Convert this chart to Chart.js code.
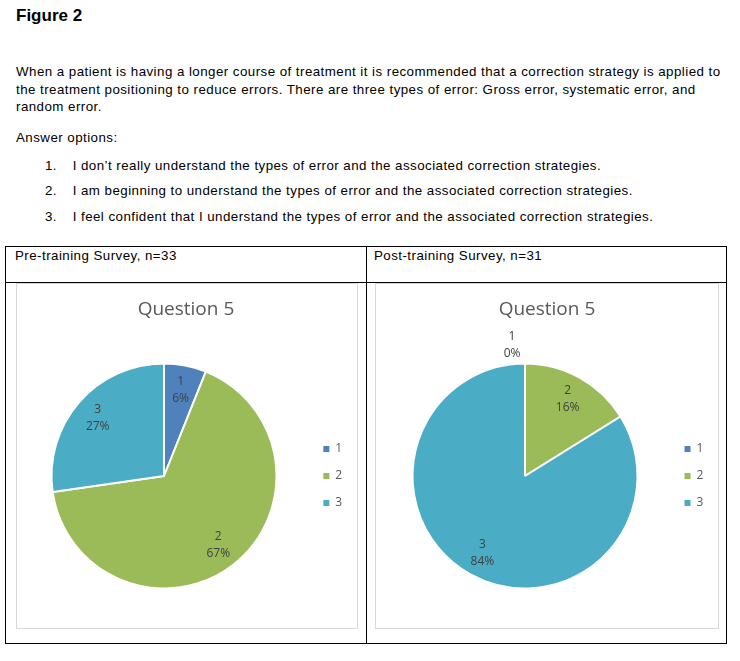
<!DOCTYPE html>
<html>
<head>
<meta charset="utf-8">
<title>Figure 2</title>
<script src="https://cdn.jsdelivr.net/npm/chart.js@4.4.1/dist/chart.umd.min.js"></script>
<style>
    body { margin: 0; background: #fff; width: 740px; height: 661px; position: relative; overflow: hidden;
           font-family: "Liberation Sans", Arial, sans-serif; color: #000; }
    .t { position: absolute; white-space: nowrap; font-size: 13.33px; letter-spacing: 0.45px; line-height: 17.5px; }
    .fig { position: absolute; left: 16px; top: 6px; font-size: 17px; line-height: 20px; font-weight: bold; }
    .line { position: absolute; background: #000; }
    .box { position: absolute; box-sizing: border-box; border: 1px solid #d9d9d9; }
    canvas { position: absolute; }
</style>
</head>
<body>

<div class="fig">Figure 2</div>

<div class="t" style="left:16px; top:63.3px;">When a patient is having a longer course of treatment it is recommended that a correction strategy is applied to<br>the treatment positioning to reduce errors. There are three types of error: Gross error, systematic error, and<br>random error.</div>

<div class="t" style="left:16px; top:129.3px;">Answer options:</div>

<div class="t" style="left:45px; top:157.3px;">1.</div>
<div class="t" style="left:72.7px; top:157.3px;">I don’t really understand the types of error and the associated correction strategies.</div>
<div class="t" style="left:45px; top:182.3px;">2.</div>
<div class="t" style="left:72.7px; top:182.3px;">I am beginning to understand the types of error and the associated correction strategies.</div>
<div class="t" style="left:45px; top:207.6px;">3.</div>
<div class="t" style="left:72.7px; top:207.6px;">I feel confident that I understand the types of error and the associated correction strategies.</div>

<!-- table frame -->
<div style="position:absolute; left:5px; top:246px; width:722px; height:398px; box-sizing:border-box; border:1px solid #000;"></div>
<div class="line" style="left:5px; top:282px; width:722px; height:1px;"></div>
<div class="line" style="left:366px; top:246px; width:1px; height:398px;"></div>

<div class="t" style="left:15px; top:246.6px;">Pre-training Survey, n=33</div>
<div class="t" style="left:374px; top:246.6px;">Post-training Survey, n=31</div>

<div class="box" style="left:16px; top:283px; width:342px; height:346px;"></div>
<div class="box" style="left:375px; top:283px; width:344px; height:346px;"></div>

<canvas id="preChart" style="left:16px; top:283px;" width="342" height="346"></canvas>
<canvas id="postChart" style="left:375px; top:283px;" width="344" height="346"></canvas>

<script>
// answer options and number of respondents picking each one
const answerLabels = ['1', '2', '3'];
const preCounts = [2, 22, 9];    // n = 33
const postCounts = [0, 5, 26];   // n = 31
const chartTitle = 'Question 5';

const sliceColours = ['#4F81BD', '#9BBB59', '#4BACC6'];

// Excel style data labels: category on one line, percentage under it
const sliceLabels = {
    id: 'sliceLabels',
    afterDatasetsDraw(chart) {
        const ctx = chart.ctx;
        const meta = chart.getDatasetMeta(0);
        const values = chart.data.datasets[0].data;
        const total = values.reduce((a, b) => a + b, 0);
        ctx.save();
        ctx.font = '12px "Open Sans"';
        ctx.fillStyle = '#404040';
        ctx.textAlign = 'center';
        ctx.textBaseline = 'middle';
        meta.data.forEach((arc, i) => {
            const p = arc.getProps(['x', 'y', 'startAngle', 'endAngle', 'outerRadius'], true);
            const mid = (p.startAngle + p.endAngle) / 2;
            const outside = values[i] === 0;   // empty slice gets its label above the pie
            const r = p.outerRadius * (outside ? 1.16 : 0.78);
            const lx = p.x + Math.cos(mid) * r - (outside ? 13 : 0);
            const ly = p.y + Math.sin(mid) * r;
            const pct = Math.round(values[i] / total * 100) + '%';
            ctx.fillText(chart.data.labels[i], lx, ly - 8.5);
            ctx.fillText(pct, lx, ly + 8.5);
        });
        ctx.restore();
    }
};

function makePie(canvasId, counts, padLeft, padRight) {
    const ctx = document.getElementById(canvasId).getContext('2d');
    return new Chart(ctx, {
        type: 'pie',
        data: {
            labels: answerLabels,
            datasets: [{
                data: counts,
                backgroundColor: sliceColours,
                borderColor: '#ffffff',
                borderWidth: 2,
                hoverOffset: 0
            }]
        },
        options: {
            responsive: false,
            animation: false,
            events: [],
            radius: 112.5,
            layout: {
                padding: { left: padLeft, right: padRight, top: 0, bottom: 20 }
            },
            plugins: {
                title: {
                    display: true,
                    text: chartTitle,
                    color: '#595959',
                    font: { family: '"Open Sans"', size: 19, weight: 'normal', lineHeight: 1.2 },
                    padding: { top: 15.6, bottom: 21.6 }
                },
                legend: {
                    position: 'right',
                    fullSize: false,
                    labels: {
                        boxWidth: 6,
                        boxHeight: 6,
                        padding: 15,
                        color: '#595959',
                        font: { family: '"Open Sans"', size: 12 },
                        generateLabels(chart) {
                            const items = Chart.overrides.pie.plugins.legend.labels.generateLabels(chart);
                            return items.map(item => ({ ...item, lineWidth: 0 }));
                        }
                    }
                },
                tooltip: { enabled: false }
            }
        },
        plugins: [sliceLabels]
    });
}

makePie('preChart', preCounts, 3.7, 5.8);
makePie('postChart', postCounts, 5.5, 5.6);
</script>
</body>
</html>
